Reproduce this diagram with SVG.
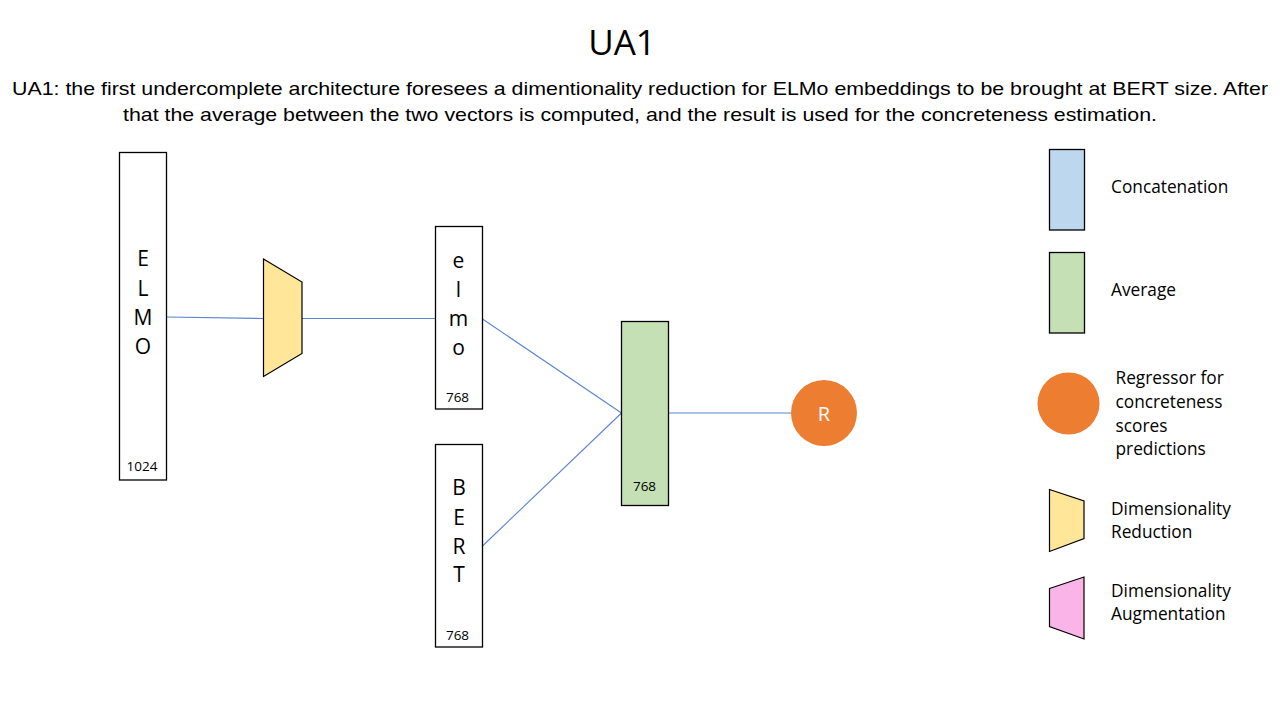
<svg xmlns="http://www.w3.org/2000/svg" width="1280" height="720" viewBox="0 0 1280 720">
<style>
.box{fill:#fff;stroke:#000;stroke-width:1.3}
.avg{fill:#C5E0B4;stroke:#000;stroke-width:1.3}
.cat{fill:#BDD7EE;stroke:#000;stroke-width:1.3}
.red{fill:#FFE699;stroke:#000;stroke-width:1.2}
.aug{fill:#FAB4E8;stroke:#000;stroke-width:1.2}
.reg{fill:#ED7D31}
.conn{stroke:#5B84D1;stroke-width:1.1;fill:none}
.big{font-family:"Open Sans","Noto Sans",sans-serif;font-size:21px;fill:#000;text-anchor:middle}
.dim{font-family:"Open Sans","Noto Sans",sans-serif;font-size:13.5px;fill:#000;text-anchor:middle}
.leg{font-family:"Open Sans","Noto Sans",sans-serif;font-size:17.3px;fill:#000}
.desc{font-family:"Liberation Sans",Arial,sans-serif;font-size:18.5px;fill:#000}
</style>
<rect width="1280" height="720" fill="#fff"/>
<text x="622" y="55" font-family="Open Sans, Noto Sans, sans-serif" font-size="35" text-anchor="middle" fill="#000">UA1</text>
<text class="desc" x="12" y="95" textLength="1256" lengthAdjust="spacingAndGlyphs">UA1: the first undercomplete  architecture foresees a dimentionality  reduction for ELMo embeddings  to be brought  at BERT size. After</text>
<text class="desc" x="123" y="121" textLength="1034" lengthAdjust="spacingAndGlyphs">that the average between the two vectors is computed,  and the result is used for the concreteness estimation.</text>

<g id="connectors">
<path class="conn" d="M166.5 317 L263.5 318.5"/>
<path class="conn" d="M302 318.5 L435.5 318.5"/>
<path class="conn" d="M482.5 319 L621.5 413"/>
<path class="conn" d="M482.5 546 L621.5 413"/>
<path class="conn" d="M668.5 413 L791 413"/>
</g>

<g id="elmo-input">
<rect class="box" x="119.5" y="152.5" width="47" height="327.5"/>
<text class="big" x="143" y="266">E</text>
<text class="big" x="143" y="296">L</text>
<text class="big" x="143" y="325">M</text>
<text class="big" x="143" y="354">O</text>
<text class="dim" x="142" y="471">1024</text>
</g>

<g id="reduction">
<polygon class="red" points="263.5,259 302,282 302,353.5 263.5,376.5"/>
</g>

<g id="elmo-reduced">
<rect class="box" x="435.5" y="226.5" width="47" height="182.5"/>
<text class="big" x="458.5" y="268">e</text>
<text class="big" x="458.5" y="297">l</text>
<text class="big" x="458.5" y="326">m</text>
<text class="big" x="458.5" y="355">o</text>
<text class="dim" x="457.5" y="402">768</text>
</g>

<g id="bert">
<rect class="box" x="435.5" y="444.5" width="47" height="202.5"/>
<text class="big" x="459" y="495">B</text>
<text class="big" x="459" y="525">E</text>
<text class="big" x="459" y="554">R</text>
<text class="big" x="459" y="582">T</text>
<text class="dim" x="457.5" y="640">768</text>
</g>

<g id="average">
<rect class="avg" x="621.5" y="321.5" width="47" height="184"/>
<text class="dim" x="644.5" y="491">768</text>
</g>

<g id="regressor">
<circle class="reg" cx="824" cy="413" r="33"/>
<text x="824" y="420.5" font-family="Open Sans, Noto Sans, sans-serif" font-size="20" fill="#fff" text-anchor="middle">R</text>
</g>

<g id="legend">
<g id="legend-concatenation">
<rect class="cat" x="1049.5" y="149.5" width="35" height="80.5"/>
<text class="leg" x="1111" y="193">Concatenation</text>
</g>
<g id="legend-average">
<rect class="avg" x="1049.5" y="252.5" width="35" height="80.5"/>
<text class="leg" x="1111" y="296">Average</text>
</g>
<g id="legend-regressor">
<circle class="reg" cx="1068.5" cy="403.5" r="31"/>
<text class="leg" x="1115.5" y="384">Regressor for</text>
<text class="leg" x="1115.5" y="408">concreteness</text>
<text class="leg" x="1115.5" y="431.5">scores</text>
<text class="leg" x="1115.5" y="455">predictions</text>
</g>
<g id="legend-reduction">
<polygon class="red" points="1049.5,489.5 1084,501 1084,538.5 1049.5,551.5"/>
<text class="leg" x="1111" y="514.5">Dimensionality</text>
<text class="leg" x="1111" y="538">Reduction</text>
</g>
<g id="legend-augmentation">
<polygon class="aug" points="1049.5,588.5 1084,577 1084,639 1049.5,626.5"/>
<text class="leg" x="1111" y="596.5">Dimensionality</text>
<text class="leg" x="1111" y="620">Augmentation</text>
</g>
</g>
</svg>
